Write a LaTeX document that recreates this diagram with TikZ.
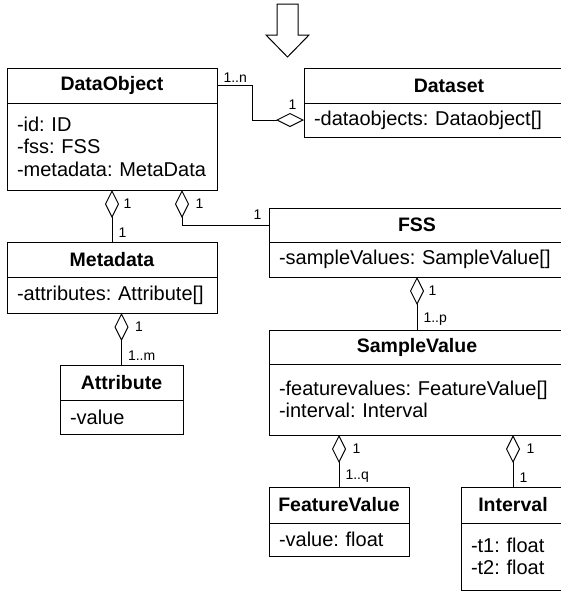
\documentclass[tikz,border=0pt]{standalone}
\usepackage{fontspec}
\setmainfont{Liberation Sans}
\usetikzlibrary{arrows.meta,positioning}
\frenchspacing

\begin{document}
\begin{tikzpicture}[x=1pt,y=-1pt,line width=1pt,node distance=0pt]
  % Node style
  \tikzstyle{clshead}=[draw,outer sep=0pt,inner sep=0pt,minimum height=35pt,font=\fontsize{19.5}{22.5}\selectfont\bfseries]
  \tikzstyle{clsbody}=[draw,outer sep=0pt,inner xsep=10pt,inner ysep=0pt,align=left,font=\fontsize{20}{22.5}\selectfont]
  \tikzstyle{mult}=[inner sep=1pt,font=\fontsize{14}{14}\selectfont]
  \tikzstyle{agg}=[-{Diamond[open,length=28pt,width=14pt]}]

  \useasboundingbox (0,0) rectangle (561,592);

  % Input arrow
  \draw (277,4) -- (298,4) -- (298,35) -- (309,35) -- (287.5,57) -- (266,35) -- (277,35) -- cycle;

  % Nodes
  \node[clshead,minimum width=210pt,anchor=north west] (dobjhead) at (7,68) {DataObject};
  \node[clsbody,text width=190pt,minimum height=87pt,below=of dobjhead] (dobjbody) {-id: ID\\-fss: FSS\\-metadata: MetaData};
  \node[clshead,minimum width=290pt,anchor=north west] (dsethead) at (304,68) {Dataset};
  \node[clsbody,text width=270pt,minimum height=34pt,below=of dsethead] (dsetbody) {-dataobjects: Dataobject[]};
  \node[clshead,minimum width=210pt,anchor=north west] (metahead) at (7,242) {Metadata};
  \node[clsbody,text width=190pt,minimum height=36pt,below=of metahead] (metabody) {-attributes: Attribute[]};
  \node[clshead,minimum width=123pt,anchor=north west] (attrhead) at (60,365) {Attribute};
  \node[clsbody,text width=103pt,minimum height=34pt,below=of attrhead] (attrbody) {-value};
  \node[clshead,minimum width=296pt,minimum height=34pt,anchor=north west] (fsshead) at (269,208) {FSS};
  \node[clsbody,text width=276pt,minimum height=35pt,below=of fsshead] (fssbody) {-sampleValues: SampleValue[]};
  \node[clshead,minimum width=296pt,minimum height=34pt,anchor=north west] (svhead) at (269,330) {SampleValue};
  \node[clsbody,text width=276pt,minimum height=71pt,below=of svhead] (svbody) {-featurevalues: FeatureValue[]\\-interval: Interval};
  \node[clshead,minimum width=140pt,minimum height=36pt,anchor=north west] (fvhead) at (269,487) {FeatureValue};
  \node[clsbody,text width=120pt,minimum height=33pt,below=of fvhead] (fvbody) {-value: float};
  \node[clshead,minimum width=104pt,minimum height=36pt,anchor=north west] (intvhead) at (461,487) {Interval};
  \node[clsbody,text width=84pt,minimum height=67pt,below=of intvhead] (intvbody) {-t1: float\\-t2: float};

  % Aggregations
  \draw[agg] (dobjhead.east) node[mult,anchor=south west,xshift=5pt,yshift=2pt] {1..n} -- ++(35,0) |- (dsetbody.west) node[mult,anchor=south east,xshift=-6pt,yshift=9pt] {1};
  \draw[agg] (metahead.north) node[mult,anchor=south west,xshift=5pt,yshift=3pt] {1} -- (dobjbody.south) node[mult,anchor=north west,xshift=10pt,yshift=-7pt] {1};
  \draw[agg] (fsshead.west) node[mult,anchor=south east,xshift=-6pt,yshift=4pt] {1} -| ([xshift=70pt]dobjbody.south) node[mult,anchor=north west,xshift=12pt,yshift=-7pt] {1};
  \draw[agg] (attrhead.north) node[mult,anchor=south west,xshift=5pt,yshift=3pt] {1..m} -- (attrhead.north |- metabody.south) node[mult,anchor=north west,xshift=12pt,yshift=-7pt] {1};
  \draw[agg] (svhead.north) node[mult,anchor=south west,xshift=5pt,yshift=3pt] {1..p} -- (fssbody.south) node[mult,anchor=north west,xshift=10pt,yshift=-7pt] {1};
  \draw[agg] (fvhead.north) node[mult,anchor=south west,xshift=5pt,yshift=3pt] {1..q} -- (fvhead.north |- svbody.south) node[mult,anchor=north west,xshift=12pt,yshift=-7pt] {1};
  \draw[agg] (intvhead.north) node[mult,anchor=south west,xshift=5pt,yshift=3pt] {1} -- (intvhead.north |- svbody.south) node[mult,anchor=north west,xshift=12pt,yshift=-7pt] {1};
\end{tikzpicture}
\end{document}
